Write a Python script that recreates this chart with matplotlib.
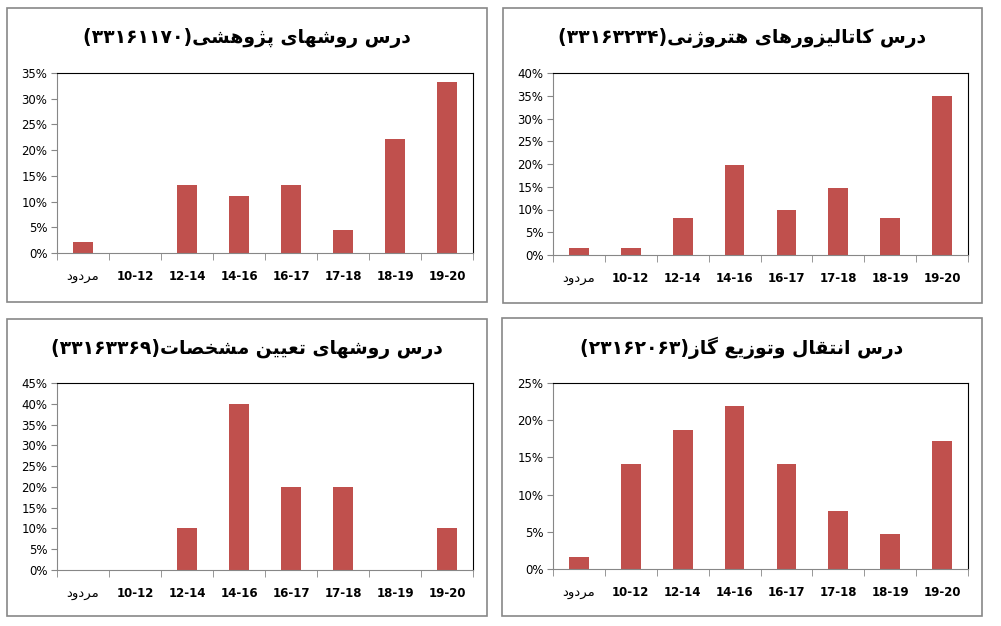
import matplotlib
matplotlib.use("Agg")
import matplotlib.pyplot as plt
from matplotlib.patches import Rectangle
from matplotlib.ticker import PercentFormatter, FixedLocator

plt.rcParams['font.family'] = ['DejaVu Sans']

# data (percent of students per grade range)
categories = ['مردود', '10-12', '12-14', '14-16', '16-17', '17-18', '18-19', '19-20']
course_names = ['درس روشهای پژوهشی', 'درس کاتالیزورهای هتروژنی',
                'درس روشهای تعیین مشخصات', 'درس انتقال وتوزیع گاز']
course_codes = ['33161170', '33163234', '33163369', '23162063']
research_methods = [2.2, 0, 13.3, 11.1, 13.3, 4.4, 22.2, 33.3]
catalysts = [1.6, 1.6, 8.2, 19.7, 9.8, 14.8, 8.2, 35.0]
characterization = [0, 0, 10, 40, 20, 20, 0, 10]
gas_transport = [1.6, 14.1, 18.7, 21.9, 14.1, 7.8, 4.7, 17.2]
y_max = [35, 40, 45, 25]

# simple arabic/persian shaping, matplotlib has no bidi support
FORMS = {
    'ا': ('\uFE8D', '\uFE8E', None, None),
    'ب': ('\uFE8F', '\uFE90', '\uFE91', '\uFE92'),
    'پ': ('\uFB56', '\uFB57', '\uFB58', '\uFB59'),
    'ت': ('\uFE95', '\uFE96', '\uFE97', '\uFE98'),
    'خ': ('\uFEA5', '\uFEA6', '\uFEA7', '\uFEA8'),
    'د': ('\uFEA9', '\uFEAA', None, None),
    'ر': ('\uFEAD', '\uFEAE', None, None),
    'ز': ('\uFEAF', '\uFEB0', None, None),
    'ژ': ('\uFB8A', '\uFB8B', None, None),
    'س': ('\uFEB1', '\uFEB2', '\uFEB3', '\uFEB4'),
    'ش': ('\uFEB5', '\uFEB6', '\uFEB7', '\uFEB8'),
    'ص': ('\uFEB9', '\uFEBA', '\uFEBB', '\uFEBC'),
    'ع': ('\uFEC9', '\uFECA', '\uFECB', '\uFECC'),
    'ق': ('\uFED5', '\uFED6', '\uFED7', '\uFED8'),
    'ک': ('\uFB8E', '\uFB8F', '\uFB90', '\uFB91'),
    'گ': ('\uFB92', '\uFB93', '\uFB94', '\uFB95'),
    'ل': ('\uFEDD', '\uFEDE', '\uFEDF', '\uFEE0'),
    'م': ('\uFEE1', '\uFEE2', '\uFEE3', '\uFEE4'),
    'ن': ('\uFEE5', '\uFEE6', '\uFEE7', '\uFEE8'),
    'ه': ('\uFEE9', '\uFEEA', '\uFEEB', '\uFEEC'),
    'و': ('\uFEED', '\uFEEE', None, None),
    'ی': ('\uFBFC', '\uFBFD', '\uFBFE', '\uFBFF'),
}


def shape(text):
    out = []
    for i, c in enumerate(text):
        f = FORMS.get(c)
        if f is None:
            out.append(c)
            continue
        prev = text[i - 1] if i > 0 else ''
        nxt = text[i + 1] if i + 1 < len(text) else ''
        jp = prev in FORMS and FORMS[prev][2] is not None
        jn = f[2] is not None and nxt in FORMS
        idx = 3 if (jp and jn) else 1 if jp else 2 if jn else 0
        out.append(f[idx])
    return ''.join(reversed(out))


fa_digits = str.maketrans('0123456789', '۰۱۲۳۴۵۶۷۸۹')

W, H = 1001, 626
fig = plt.figure(figsize=(W / 100, H / 100), dpi=100)

# (box x0, y0, x1, y1), (axes x0, y0, x1, y1) in pixels from top-left
boxes = [(7, 8, 487, 302), (503, 8, 982, 303), (7, 319, 487, 616), (502, 318, 982, 616)]
plot_areas = [(57, 73, 473, 253), (553, 73, 968, 255), (57, 383, 473, 570), (553, 383, 968, 569)]
series = [research_methods, catalysts, characterization, gas_transport]

for k in range(4):
    bx0, by0, bx1, by1 = boxes[k]
    fig.patches.append(Rectangle((bx0 / W, 1 - by1 / H), (bx1 - bx0) / W, (by1 - by0) / H,
                                 transform=fig.transFigure, fill=False,
                                 edgecolor='#878787', linewidth=1.2))
    title = '(' + course_codes[k].translate(fa_digits) + ')' + shape(course_names[k])
    fig.text((bx0 + bx1) / 2 / W, 1 - (by0 + 30) / H, title, ha='center', va='center',
             fontsize=13.5, fontweight='bold')

    x0, y0, x1, y1 = plot_areas[k]
    ax = fig.add_axes([x0 / W, 1 - y1 / H, (x1 - x0) / W, (y1 - y0) / H])
    ax.bar(range(len(categories)), series[k], width=0.38, color='#C0504D')
    ax.set_xlim(-0.5, len(categories) - 0.5)
    ax.set_ylim(0, y_max[k])
    ax.set_yticks(range(0, y_max[k] + 1, 5))
    ax.yaxis.set_major_formatter(PercentFormatter(decimals=0))
    ax.tick_params(axis='y', labelsize=8.5, length=4, color='#878787', pad=3)

    ax.set_xticks(range(len(categories)))
    ax.set_xticklabels([shape(c) if c == 'مردود' else c for c in categories])
    ax.tick_params(axis='x', which='major', length=0, pad=12, labelsize=8.5)
    for lab in ax.get_xticklabels()[1:]:
        lab.set_fontweight('bold')
    ax.get_xticklabels()[0].set_fontsize(9.5)
    ax.xaxis.set_minor_locator(FixedLocator([i - 0.5 for i in range(len(categories) + 1)]))
    ax.tick_params(axis='x', which='minor', length=5, color='#878787')

    ax.spines['left'].set_color('#878787')
    ax.spines['bottom'].set_color('#878787')
    ax.spines['top'].set_color('black')
    ax.spines['right'].set_color('black')

fig.savefig('out.png', dpi=100)
